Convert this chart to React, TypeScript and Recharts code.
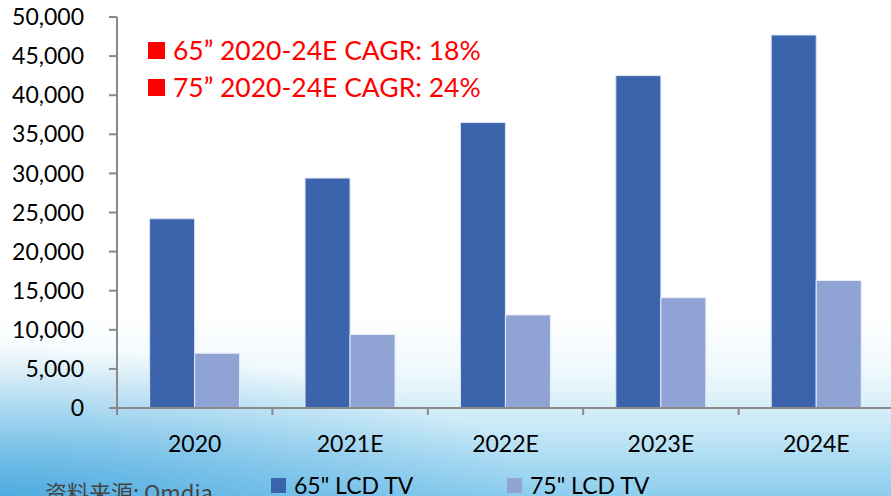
import React from 'react';
import { BarChart, Bar, XAxis, YAxis } from 'recharts';

// values (units)
const years = ['2020', '2021E', '2022E', '2023E', '2024E'];
const tv65 = [24200, 29400, 36500, 42500, 47700];
const tv75 = [7000, 9400, 11900, 14100, 16300];
const yTicks = [0, 5000, 10000, 15000, 20000, 25000, 30000, 35000, 40000, 45000, 50000];
const seriesNames = ['65" LCD TV', '75" LCD TV'];
const seriesColors = ['#3C64AD', '#8FA3D4'];
const cagrNotes = ['65” 2020-24E CAGR: 18%', '75” 2020-24E CAGR: 24%'];

const FONT = 'Lato, "Open Sans", sans-serif';
const AXIS = '#8a8a8a';

const chartData = years.map((y, i) => ({ year: y, tv65: tv65[i], tv75: tv75[i] }));

// year label at the band centre, tick mark at the band's left edge
function YearTick(props: any) {
  const { x, y, payload } = props;
  const half = payload?.offset ?? 0;
  return (
    <g>
      <line x1={x - half} x2={x - half} y1={y} y2={y + 7} stroke={AXIS} strokeWidth={2} />
      <text x={x} y={y + 44} textAnchor="middle" fill="#000" fontSize={23} fontFamily={FONT}>
        {payload.value}
      </text>
    </g>
  );
}

export default function App() {
  return (
    <div
      style={{
        position: 'absolute',
        left: 0,
        top: 0,
        width: 891,
        height: 496,
        overflow: 'hidden',
        fontFamily: FONT,
        background:
          'radial-gradient(ellipse 60% 30% at 0% 100%, rgba(40,150,215,0.6), rgba(40,150,215,0) 100%),' +
          'linear-gradient(180deg, #ffffff 0%, #ffffff 64%, #eef8fc 75%, #c9e9f7 86%, #8ccdee 100%)',
      }}
    >
      <BarChart
        width={894}
        height={496}
        data={chartData}
        margin={{ top: 17, right: 0, bottom: 0, left: 0 }}
        barCategoryGap="21%"
        barGap={0}
      >
        <XAxis
          dataKey="year"
          height={88}
          axisLine={{ stroke: AXIS, strokeWidth: 2 }}
          tickLine={false}
          tickSize={0}
          tickMargin={0}
          tick={<YearTick />}
          interval={0}
        />
        <YAxis
          width={117}
          domain={[0, 50000]}
          ticks={yTicks}
          interval={0}
          axisLine={{ stroke: AXIS, strokeWidth: 2 }}
          tickLine={{ stroke: AXIS, strokeWidth: 2 }}
          tickSize={8}
          tickMargin={25}
          tick={{ fill: '#000', fontSize: 23, fontFamily: FONT }}
          tickFormatter={(v: number) => v.toLocaleString('en-US')}
        />
        <Bar dataKey="tv65" name={seriesNames[0]} fill={seriesColors[0]} stroke="#dce4f3" strokeWidth={1} isAnimationActive={false} />
        <Bar dataKey="tv75" name={seriesNames[1]} fill={seriesColors[1]} stroke="#e6ecf7" strokeWidth={1} isAnimationActive={false} />
      </BarChart>

      {/* CAGR notes */}
      {cagrNotes.map((t, i) => (
        <div
          key={t}
          style={{
            position: 'absolute',
            left: 148,
            top: 35 + i * 37,
            display: 'flex',
            alignItems: 'center',
            color: '#FF0000',
            fontSize: 26.5,
            lineHeight: '31px',
            whiteSpace: 'nowrap',
          }}
        >
          <span style={{ display: 'inline-block', width: 17, height: 17, background: '#FF0000', marginRight: 8 }} />
          {t}
        </div>
      ))}

      {/* legend */}
      {seriesNames.map((n, i) => (
        <div
          key={n}
          style={{
            position: 'absolute',
            left: 271 + i * 236,
            top: 471,
            display: 'flex',
            alignItems: 'center',
            fontSize: 23,
            lineHeight: '28px',
            color: '#000',
            whiteSpace: 'nowrap',
          }}
        >
          <span style={{ display: 'inline-block', width: 15, height: 15, background: seriesColors[i], marginRight: 8 }} />
          {n}
        </div>
      ))}

      {/* source */}
      <div
        style={{
          position: 'absolute',
          left: 45,
          top: 477,
          fontSize: 22,
          lineHeight: '28px',
          color: '#444',
          fontFamily: '"Noto Sans CJK SC", Lato, sans-serif',
          whiteSpace: 'nowrap',
        }}
      >
        资料来源: Omdia
      </div>
    </div>
  );
}
